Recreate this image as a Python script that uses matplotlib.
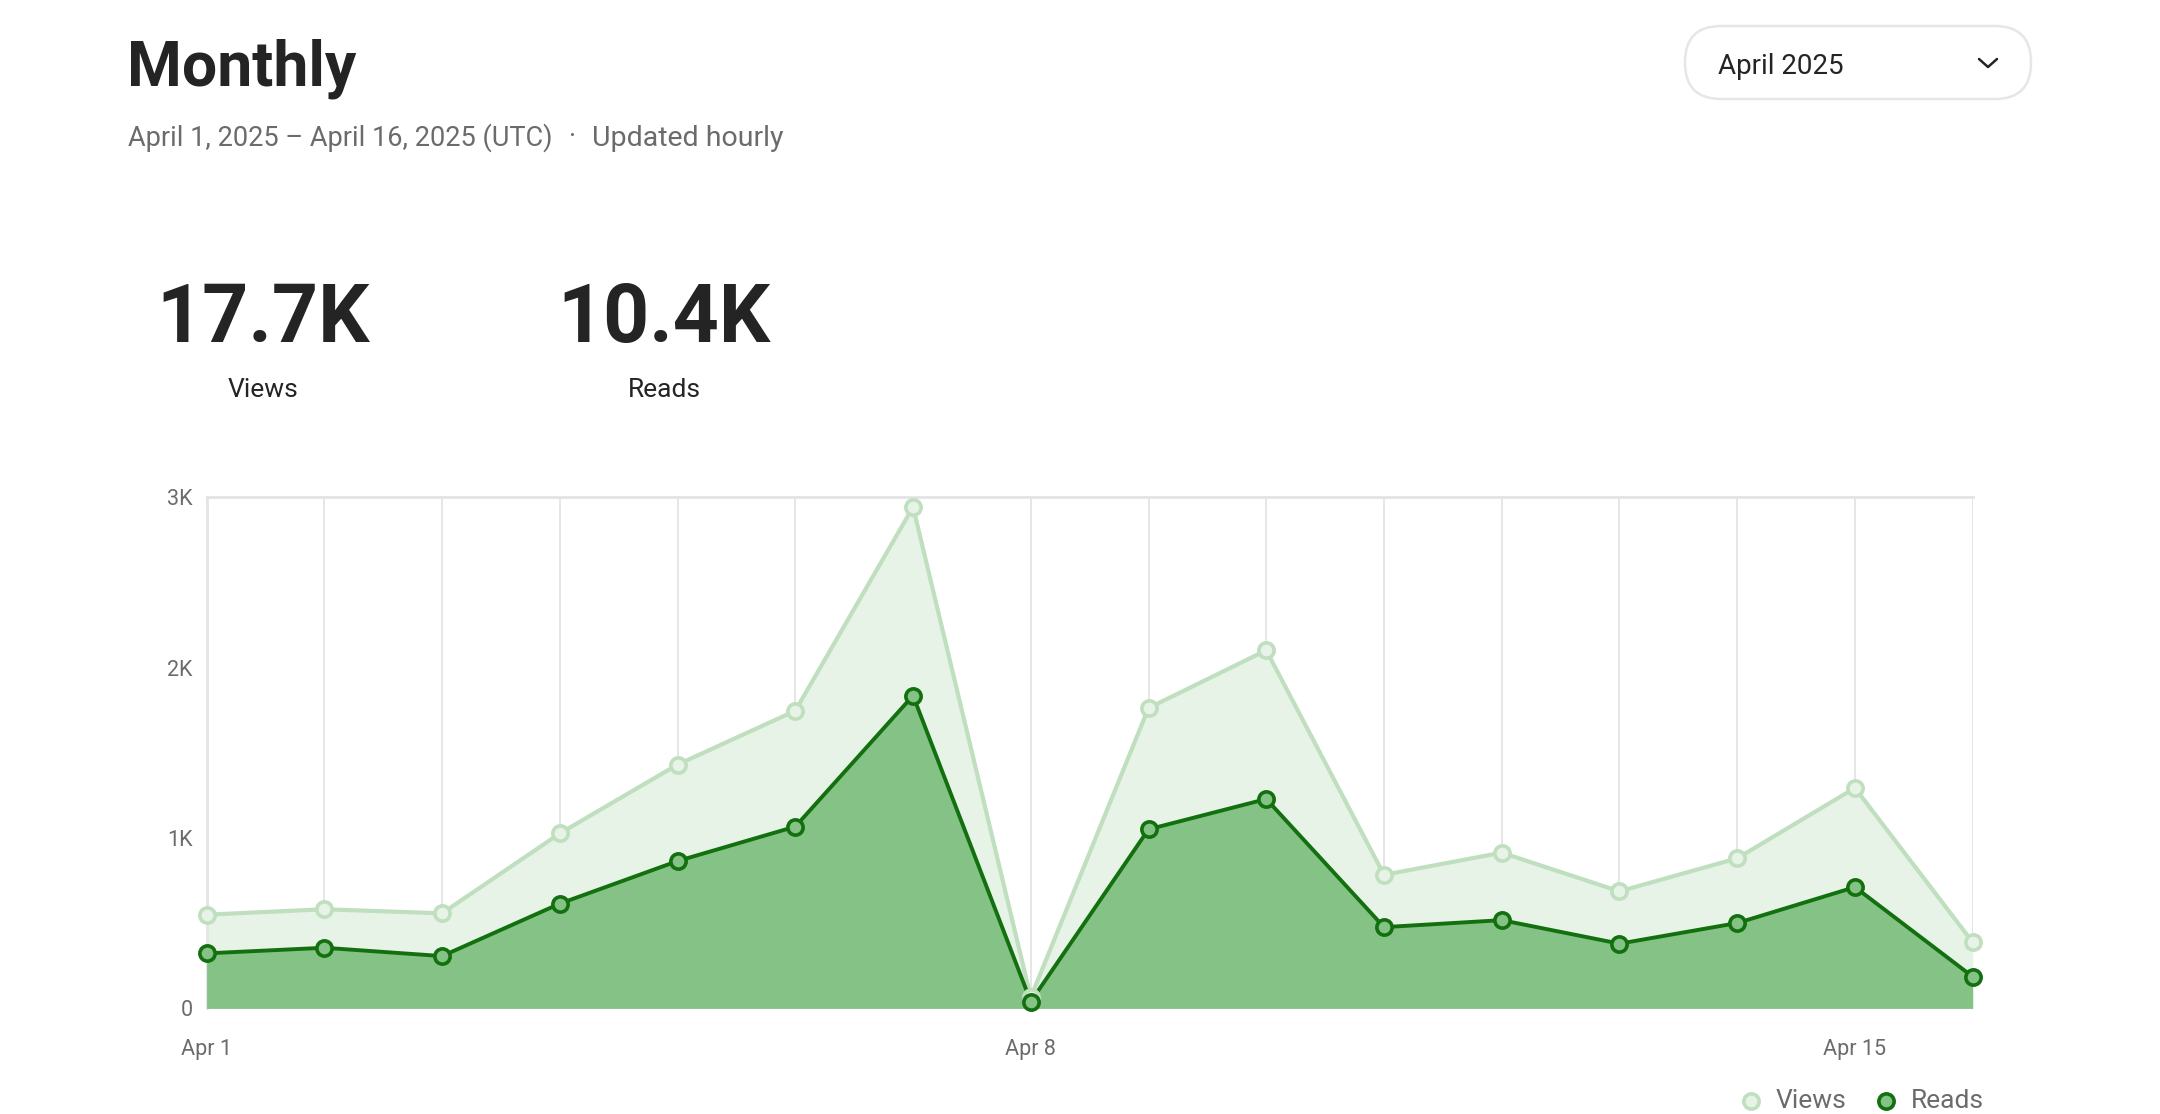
import matplotlib.pyplot as plt
from matplotlib.patches import FancyBboxPatch

plt.rcParams["font.family"] = ["Roboto", "DejaVu Sans"]

days = list(range(1, 17))
views = [550, 582, 558, 1027, 1431, 1747, 2943, 65, 1763, 2102, 784, 914, 687, 881, 1294, 388]
reads = [323, 356, 307, 615, 865, 1067, 1836, 40, 1051, 1229, 477, 518, 380, 501, 712, 186]
x_ticks = [1, 8, 15]
x_labels = ["Apr 1", "Apr 8", "Apr 15"]
y_ticks = [0, 1000, 2000, 3000]
y_labels = ["0", "1K", "2K", "3K"]

W, H = 2160, 1114
fig = plt.figure(figsize=(W / 100, H / 100), dpi=100)

VIEW_LINE = "#bfdfbf"
VIEW_FILL = "#e7f3e7"
READ_LINE = "#13700f"
READ_FILL = "#85c285"
GRID = "#e4e4e4"
GREY = "#6b6b6b"
DARK = "#242424"

# chart area
ax = fig.add_axes([206.6 / W, 1 - 1008.4 / H, (1972.7 - 206.6) / W, (1008.4 - 497.3) / H])
ax.set_xlim(1, 16)
ax.set_ylim(0, 3000)

for d in days:
    ax.axvline(d, color=GRID, lw=1.3, zorder=0)

ax.fill_between(days, views, color=VIEW_FILL, lw=0, zorder=1)
ax.plot(days, views, color=VIEW_LINE, lw=3, zorder=2)
ax.fill_between(days, reads, color=READ_FILL, lw=0, zorder=3)
ax.plot(days, reads, color=READ_LINE, lw=2.8, zorder=4)
ax.plot(days, views, ls="none", marker="o", ms=11, mfc=VIEW_FILL, mec=VIEW_LINE, mew=2.6, zorder=5,
        clip_on=False)
ax.plot(days, reads, ls="none", marker="o", ms=11, mfc=READ_FILL, mec=READ_LINE, mew=2.6, zorder=6,
        clip_on=False)

for side in ["right", "bottom"]:
    ax.spines[side].set_visible(False)
for side in ["top", "left"]:
    ax.spines[side].set_color(GRID)
    ax.spines[side].set_linewidth(2)

ax.set_xticks(x_ticks, x_labels)
ax.set_yticks(y_ticks, y_labels)
ax.tick_params(length=0, labelsize=15.5, colors=GREY)
ax.tick_params(axis="x", pad=22)
ax.tick_params(axis="y", pad=10)
for lab in ax.get_yticklabels():
    lab.set_verticalalignment("center_baseline")

# overlay in pixel coordinates for header, counters, dropdown, legend
ov = fig.add_axes([0, 0, 1, 1], zorder=-1)
ov.set_xlim(0, W)
ov.set_ylim(H, 0)
ov.axis("off")

ov.text(127, 69, "Monthly", fontsize=45, fontweight="bold", color=DARK, va="center", ha="left")
ov.text(128, 138, "April 1, 2025 \u2013 April 16, 2025 (UTC)", fontsize=19.5,
        color=GREY, va="center", ha="left")
ov.text(573, 136, "\u00b7", fontsize=19.5, color=GREY, va="center", ha="center")
ov.text(592, 138, "Updated hourly", fontsize=20.5, color=GREY, va="center", ha="left")

ov.text(263, 342, "17.7K", fontsize=58, fontweight="bold", color=DARK, va="baseline", ha="center")
ov.text(263, 390, "Views", fontsize=19, color=DARK, va="center", ha="center")
ov.text(664, 342, "10.4K", fontsize=58, fontweight="bold", color=DARK, va="baseline", ha="center")
ov.text(664, 390, "Reads", fontsize=19, color=DARK, va="center", ha="center")

box = FancyBboxPatch((1685 + 36, 26 + 36), 346 - 72, 1, boxstyle="round,pad=36",
                     fc="white", ec="#e6e6e6", lw=1.8)
ov.add_patch(box)
ov.text(1718, 66, "April 2025", fontsize=20, color=DARK, va="center", ha="left")
ov.plot([1979, 1988, 1997], [59, 67, 59], color=DARK, lw=1.8, solid_capstyle="round")

# legend
ov.plot([1751], [1101], marker="o", ms=11, mfc=VIEW_FILL, mec=VIEW_LINE, mew=2.6)
ov.text(1776, 1101, "Views", fontsize=19, color=GREY, va="center", ha="left")
ov.plot([1886], [1101], marker="o", ms=11, mfc=READ_FILL, mec=READ_LINE, mew=2.6)
ov.text(1911, 1101, "Reads", fontsize=19, color=GREY, va="center", ha="left")

fig.savefig("out.png", dpi=100, facecolor="white")
